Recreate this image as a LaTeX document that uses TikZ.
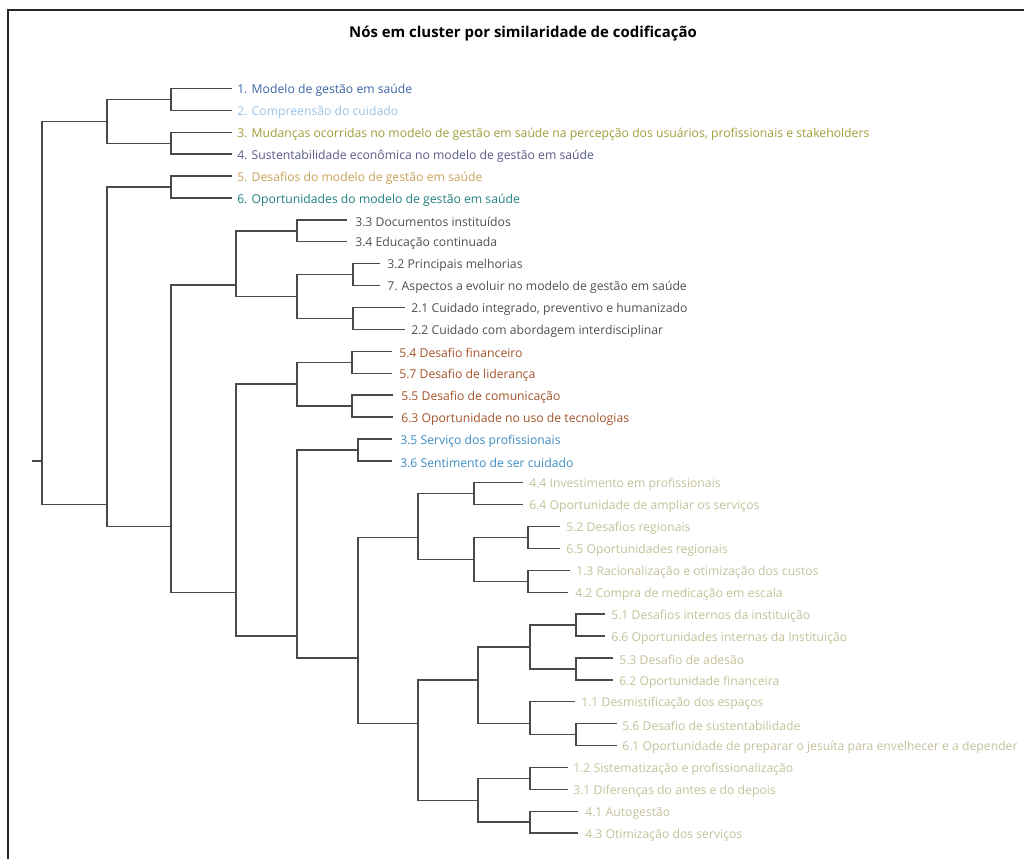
\documentclass[tikz,border=0pt]{standalone}
\usepackage{fontspec}
\setmainfont{Open Sans}
\definecolor{linegray}{HTML}{4A4A4A}
\definecolor{cA}{HTML}{3B64A6}
\definecolor{cB}{HTML}{9CC3E6}
\definecolor{cC}{HTML}{A29E3C}
\definecolor{cD}{HTML}{5B5B8C}
\definecolor{cE}{HTML}{C9A25A}
\definecolor{cF}{HTML}{21817F}
\definecolor{cG}{HTML}{505050}
\definecolor{cH}{HTML}{A4552A}
\definecolor{cI}{HTML}{3C8DC4}
\definecolor{cK}{HTML}{C4C29A}
\begin{document}
\begin{tikzpicture}[x=0.75pt,y=-0.75pt,
  branch/.style={draw=linegray, line width=1.05pt},
  leaf/.style={anchor=west, inner sep=0pt, font=\fontsize{9.15}{11}\selectfont},
  frame/.style={draw=black!85, line width=1.1pt}]
\useasboundingbox (0,0) rectangle (1024,859);
\fill[white] (0,0) rectangle (1024,859);
\draw[frame] (1024,10) -- (8,10) -- (8,859);
\node[font=\bfseries\fontsize{11.2}{13}\selectfont] (title) at (523,34) {Nós em cluster por similaridade de codificação};

% leaf line ends
\coordinate (e0) at (232,88.5);
\coordinate (e1) at (232,110.4);
\coordinate (e2) at (232,132.3);
\coordinate (e3) at (232,154.2);
\coordinate (e4) at (232,176.1);
\coordinate (e5) at (232,198.0);
\coordinate (e6) at (347,219.9);
\coordinate (e7) at (347,241.8);
\coordinate (e8) at (380,263.7);
\coordinate (e9) at (380,285.6);
\coordinate (e10) at (405,307.5);
\coordinate (e11) at (405,329.4);
\coordinate (e12) at (392,351.3);
\coordinate (e13) at (392,373.2);
\coordinate (e14) at (393,395.1);
\coordinate (e15) at (393,417.0);
\coordinate (e16) at (392,438.9);
\coordinate (e17) at (392,460.8);
\coordinate (e18) at (523,482.7);
\coordinate (e19) at (523,504.6);
\coordinate (e20) at (560,526.5);
\coordinate (e21) at (560,548.4);
\coordinate (e22) at (570,570.3);
\coordinate (e23) at (568,592.2);
\coordinate (e24) at (605,614.1);
\coordinate (e25) at (605,636.0);
\coordinate (e26) at (613,657.9);
\coordinate (e27) at (613,679.8);
\coordinate (e28) at (575,701.7);
\coordinate (e29) at (617,723.6);
\coordinate (e30) at (617,745.5);
\coordinate (e31) at (568,767.4);
\coordinate (e32) at (568,789.3);
\coordinate (e33) at (578,811.2);
\coordinate (e34) at (578,833.1);

% leaf labels
\node[leaf, text=cA] (t0) at (237,90.5) {1. Modelo de gestão em saúde};
\node[leaf, text=cB] (t1) at (237,112.4) {2. Compreensão do cuidado};
\node[leaf, text=cC] (t2) at (237,134.3) {3. Mudanças ocorridas no modelo de gestão em saúde na percepção dos usuários, profissionais e stakeholders};
\node[leaf, text=cD] (t3) at (237,156.2) {4. Sustentabilidade econômica no modelo de gestão em saúde};
\node[leaf, text=cE] (t4) at (237,178.1) {5. Desafios do modelo de gestão em saúde};
\node[leaf, text=cF] (t5) at (237,200.0) {6. Oportunidades do modelo de gestão em saúde};
\node[leaf, text=cG] (t6) at (355,221.9) {3.3 Documentos instituídos};
\node[leaf, text=cG] (t7) at (355,243.8) {3.4 Educação continuada};
\node[leaf, text=cG] (t8) at (387,265.7) {3.2 Principais melhorias};
\node[leaf, text=cG] (t9) at (387,287.6) {7. Aspectos a evoluir no modelo de gestão em saúde};
\node[leaf, text=cG] (t10) at (411,309.5) {2.1 Cuidado integrado, preventivo e humanizado};
\node[leaf, text=cG] (t11) at (411,331.4) {2.2 Cuidado com abordagem interdisciplinar};
\node[leaf, text=cH] (t12) at (399,353.3) {5.4 Desafio financeiro};
\node[leaf, text=cH] (t13) at (399,375.2) {5.7 Desafio de liderança};
\node[leaf, text=cH] (t14) at (401,397.1) {5.5 Desafio de comunicação};
\node[leaf, text=cH] (t15) at (401,419.0) {6.3 Oportunidade no uso de tecnologias};
\node[leaf, text=cI] (t16) at (400,440.9) {3.5 Serviço dos profissionais};
\node[leaf, text=cI] (t17) at (400,462.8) {3.6 Sentimento de ser cuidado};
\node[leaf, text=cK] (t18) at (529,484.7) {4.4 Investimento em profissionais};
\node[leaf, text=cK] (t19) at (529,506.6) {6.4 Oportunidade de ampliar os serviços};
\node[leaf, text=cK] (t20) at (566,528.5) {5.2 Desafios regionais};
\node[leaf, text=cK] (t21) at (566,550.4) {6.5 Oportunidades regionais};
\node[leaf, text=cK] (t22) at (576,572.3) {1.3 Racionalização e otimização dos custos};
\node[leaf, text=cK] (t23) at (575,594.2) {4.2 Compra de medicação em escala};
\node[leaf, text=cK] (t24) at (611,616.1) {5.1 Desafios internos da instituição};
\node[leaf, text=cK] (t25) at (611,638.0) {6.6 Oportunidades internas da Instituição};
\node[leaf, text=cK] (t26) at (619,659.9) {5.3 Desafio de adesão};
\node[leaf, text=cK] (t27) at (619,681.8) {6.2 Oportunidade financeira};
\node[leaf, text=cK] (t28) at (581,703.7) {1.1 Desmistificação dos espaços};
\node[leaf, text=cK] (t29) at (622,725.6) {5.6 Desafio de sustentabilidade};
\node[leaf, text=cK] (t30) at (622,747.5) {6.1 Oportunidade de preparar o jesuíta para envelhecer e a depender};
\node[leaf, text=cK] (t31) at (573,769.4) {1.2 Sistematização e profissionalização};
\node[leaf, text=cK] (t32) at (573,791.3) {3.1 Diferenças do antes e do depois};
\node[leaf, text=cK] (t33) at (585,813.2) {4.1 Autogestão};
\node[leaf, text=cK] (t34) at (585,835.1) {4.3 Otimização dos serviços};

% junctions
\coordinate (j01) at (171,99.45);
\coordinate (j23) at (171,143.25);
\coordinate (jA) at (107,121.35);
\coordinate (j45) at (171,187.05);
\coordinate (j67) at (297,230.85);
\coordinate (j89) at (353,274.65);
\coordinate (j1011) at (353,318.45);
\coordinate (jD2) at (297,296.55);
\coordinate (jD) at (236,285.0);
\coordinate (j1213) at (352,362.25);
\coordinate (j1415) at (352,406.05);
\coordinate (jF) at (297,384.15);
\coordinate (j1617) at (358,449.85);
\coordinate (j1819) at (474,493.65);
\coordinate (j2021) at (528,537.45);
\coordinate (j2223) at (528,581.25);
\coordinate (jK) at (474,559.35);
\coordinate (jI) at (418,537.45);
\coordinate (j2425) at (576,625.05);
\coordinate (j2627) at (576,668.85);
\coordinate (jL1) at (530,646.95);
\coordinate (j2930) at (576,734.55);
\coordinate (jL2) at (530,723.6);
\coordinate (jL) at (478,679.8);
\coordinate (j3132) at (530,778.35);
\coordinate (j3334) at (530,822.15);
\coordinate (jM) at (478,800.25);
\coordinate (jJ) at (418,723.6);
\coordinate (jH) at (358,657.9);
\coordinate (jG) at (297,636.0);
\coordinate (jE) at (236,592.2);
\coordinate (jC) at (171,526.5);
\coordinate (jB) at (107,504.6);
\coordinate (root) at (42,460.8);
\coordinate (stub) at (32,460.8);

% branches
\draw[branch] (e0) -| (j01) |- (e1);
\draw[branch] (e2) -| (j23) |- (e3);
\draw[branch] (j01) -| (jA) |- (j23);
\draw[branch] (e4) -| (j45) |- (e5);
\draw[branch] (e6) -| (j67) |- (e7);
\draw[branch] (e8) -| (j89) |- (e9);
\draw[branch] (e10) -| (j1011) |- (e11);
\draw[branch] (j89) -| (jD2) |- (j1011);
\draw[branch] (j67) -| (jD) |- (jD2);
\draw[branch] (e12) -| (j1213) |- (e13);
\draw[branch] (e14) -| (j1415) |- (e15);
\draw[branch] (j1213) -| (jF) |- (j1415);
\draw[branch] (e16) -| (j1617) |- (e17);
\draw[branch] (e18) -| (j1819) |- (e19);
\draw[branch] (e20) -| (j2021) |- (e21);
\draw[branch] (e22) -| (j2223) |- (e23);
\draw[branch] (j2021) -| (jK) |- (j2223);
\draw[branch] (j1819) -| (jI) |- (jK);
\draw[branch] (e24) -| (j2425) |- (e25);
\draw[branch] (e26) -| (j2627) |- (e27);
\draw[branch] (j2425) -| (jL1) |- (j2627);
\draw[branch] (e29) -| (j2930) |- (e30);
\draw[branch] (e28) -| (jL2) |- (j2930);
\draw[branch] (jL1) -| (jL) |- (jL2);
\draw[branch] (e31) -| (j3132) |- (e32);
\draw[branch] (e33) -| (j3334) |- (e34);
\draw[branch] (j3132) -| (jM) |- (j3334);
\draw[branch] (jL) -| (jJ) |- (jM);
\draw[branch] (jI) -| (jH) |- (jJ);
\draw[branch] (j1617) -| (jG) |- (jH);
\draw[branch] (jF) -| (jE) |- (jG);
\draw[branch] (jD) -| (jC) |- (jE);
\draw[branch] (j45) -| (jB) |- (jC);
\draw[branch] (jA) -| (root) |- (jB);
\draw[branch] (stub) -- (root);
\end{tikzpicture}
\end{document}
